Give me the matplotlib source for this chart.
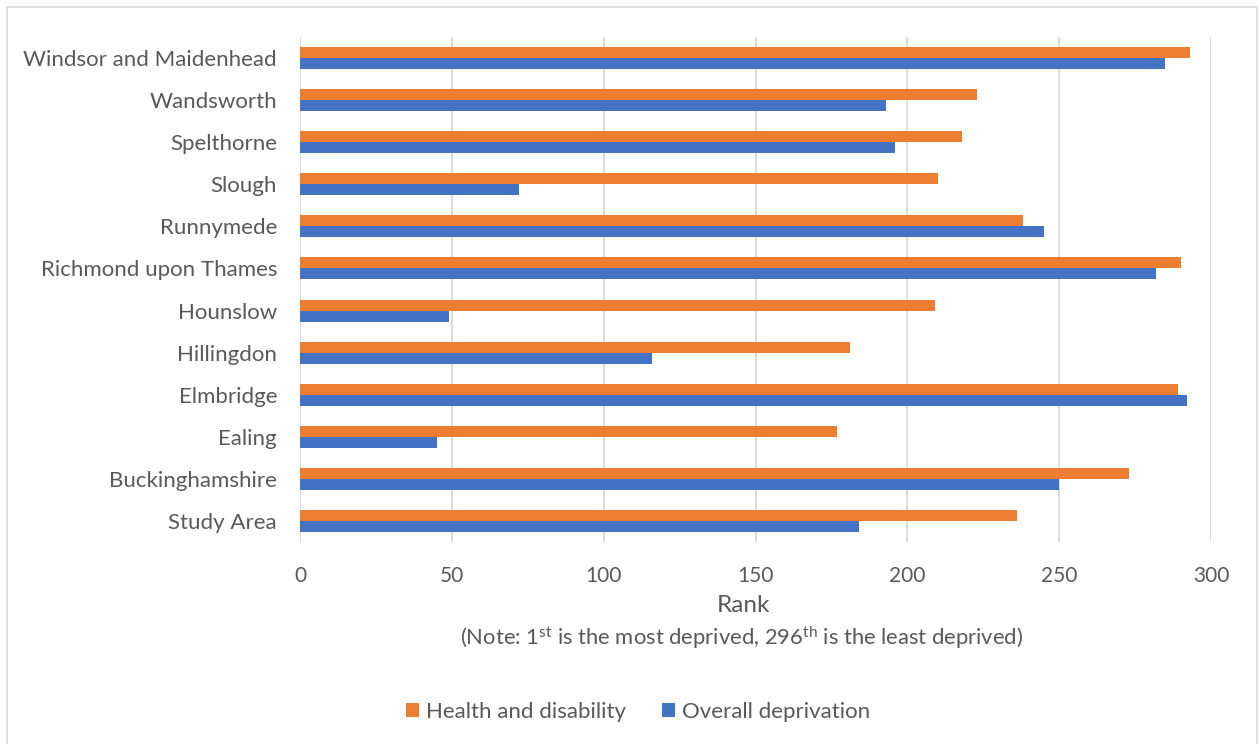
import numpy as np
import matplotlib
matplotlib.use('Agg')
import matplotlib.pyplot as plt
from matplotlib.patches import Rectangle

plt.rcParams['font.family'] = ['Lato', 'DejaVu Sans']
plt.rcParams['mathtext.fontset'] = 'custom'
plt.rcParams['mathtext.rm'] = 'Lato'
plt.rcParams['mathtext.it'] = 'Lato:italic'

# bottom to top
areas = ['Study Area', 'Buckinghamshire', 'Ealing', 'Elmbridge', 'Hillingdon',
         'Hounslow', 'Richmond upon Thames', 'Runnymede', 'Slough',
         'Spelthorne', 'Wandsworth', 'Windsor and Maidenhead']
health = [236, 273, 177, 289, 181, 209, 290, 238, 210, 218, 223, 293]
overall = [184, 250, 45, 292, 116, 49, 282, 245, 72, 196, 193, 285]
ticks = [0, 50, 100, 150, 200, 250, 300]

orange = '#ED7D31'
blue = '#4472C4'
grey_text = '#595959'

W, H = 1258, 744
fig = plt.figure(figsize=(W / 100, H / 100), dpi=100)
ax = fig.add_axes([300 / W, 1 - 542 / H, 911 / W, 505 / H])

y = np.arange(len(areas))
h = 0.262
ax.barh(y + h / 2, health, height=h, color=orange, label='Health and disability', zorder=3)
ax.barh(y - h / 2, overall, height=h, color=blue, label='Overall deprivation', zorder=3)

ax.set_xlim(0, 300)
ax.set_ylim(-0.5, len(areas) - 0.5)
ax.set_xticks(ticks)
ax.set_yticks(y)
ax.set_yticklabels(areas)
ax.grid(axis='x', color='#D9D9D9', linewidth=1.3, zorder=0)
for s in ax.spines.values():
    s.set_visible(False)
ax.tick_params(axis='y', length=0, labelsize=16, labelcolor=grey_text, pad=16.5)
ax.tick_params(axis='x', length=0, labelsize=15, labelcolor=grey_text, pad=17)

fig.text(743 / W, 1 - 606 / H, 'Rank', ha='center', va='center', fontsize=17.5, color=grey_text)
fig.text(741.5 / W, 1 - 638 / H,
         r'(Note: 1$^{\mathrm{st}}$ is the most deprived, 296$^{\mathrm{th}}$ is the least deprived)',
         ha='center', va='center', fontsize=15.8, color=grey_text)

fig.legend(loc='center', bbox_to_anchor=(638 / W, 1 - 712 / H), ncol=2, frameon=False,
           fontsize=16, handlelength=0.58, handleheight=0.58, handletextpad=0.3,
           columnspacing=1.65, labelcolor=grey_text)

# chart area frame
fig.patches.append(Rectangle((7 / W, -0.01), 1250 / W, 1.01 - 7 / H, transform=fig.transFigure,
                             fill=False, edgecolor='#D9D9D9', linewidth=1.2))

fig.savefig('out.png', dpi=100)
